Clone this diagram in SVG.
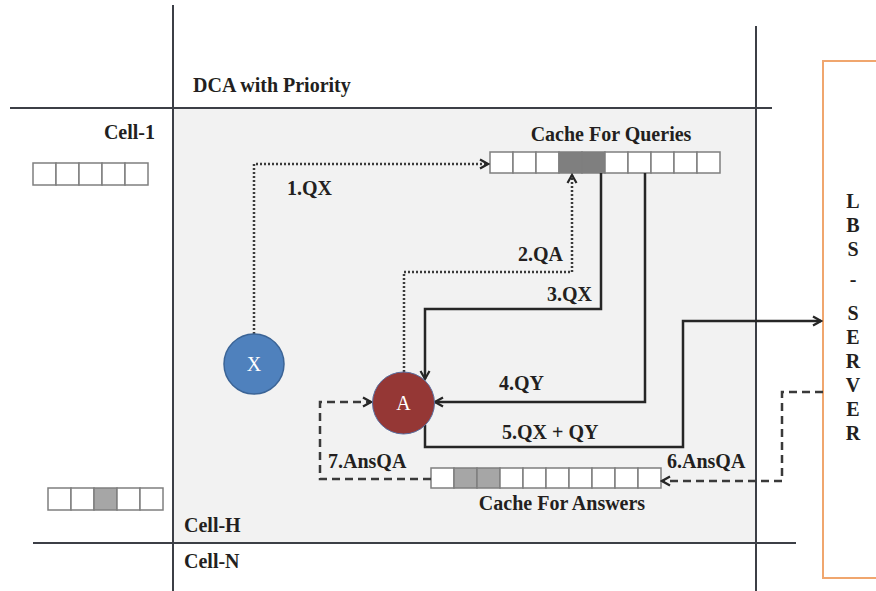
<svg xmlns="http://www.w3.org/2000/svg" width="876" height="591" viewBox="0 0 876 591">
<style>
.t{font-family:"Liberation Serif","Times New Roman",serif;font-weight:bold;font-size:20px;fill:#231f20}
.grid{stroke:#3c3f46;stroke-width:2;fill:none}
.cell{fill:#ffffff;stroke:#7f7f7f;stroke-width:1.5}
.dk{fill:#7f7f7f}
.md{fill:#a6a6a6}
.solid{stroke:#262626;stroke-width:2.5;fill:none}
.dot{stroke:#3a3a3a;stroke-width:2.5;fill:none;stroke-dasharray:2 2}
.dash{stroke:#3a3a3a;stroke-width:2.5;fill:none;stroke-dasharray:8 5}
.nl{font-family:"Liberation Serif","Times New Roman",serif;font-size:20px;fill:#ffffff}
</style>
<defs>
<marker id="arr" markerWidth="12" markerHeight="12" refX="10" refY="6" orient="auto" markerUnits="userSpaceOnUse">
<path d="M2,1.5 L10,6 L2,10.5" fill="none" stroke="#262626" stroke-width="2.2"/>
</marker>
</defs>
<rect width="876" height="591" fill="#ffffff"/>
<g id="cell-h-area">
<rect x="173" y="108" width="583" height="435" fill="#f2f2f2"/>
</g>
<g id="grid">
<line class="grid" x1="173" y1="5" x2="173" y2="591"/>
<line class="grid" x1="756" y1="26" x2="756" y2="591"/>
<line class="grid" x1="10" y1="108" x2="772" y2="108"/>
<line class="grid" x1="33" y1="543" x2="796" y2="543"/>
</g>
<g id="lbs-server">
<rect x="823" y="61" width="70" height="517" fill="#ffffff" stroke="#f0a66e" stroke-width="2"/>
<g class="t" text-anchor="middle">
<text x="853" y="208">L</text>
<text x="853" y="232">B</text>
<text x="853" y="256">S</text>
<text x="853" y="286">-</text>
<text x="853" y="320">S</text>
<text x="853" y="344">E</text>
<text x="853" y="368">R</text>
<text x="853" y="392">V</text>
<text x="853" y="416">E</text>
<text x="853" y="440">R</text>
</g>
</g>
<g id="cache-queries">
<rect class="cell" x="490" y="152" width="23" height="21"/>
<rect class="cell" x="513" y="152" width="23" height="21"/>
<rect class="cell" x="536" y="152" width="23" height="21"/>
<rect class="cell dk" x="559" y="152" width="23" height="21"/>
<rect class="cell dk" x="582" y="152" width="23" height="21"/>
<rect class="cell" x="605" y="152" width="23" height="21"/>
<rect class="cell" x="628" y="152" width="23" height="21"/>
<rect class="cell" x="651" y="152" width="23" height="21"/>
<rect class="cell" x="674" y="152" width="23" height="21"/>
<rect class="cell" x="697" y="152" width="23" height="21"/>
<text class="t" x="611" y="141" text-anchor="middle">Cache For Queries</text>
</g>
<g id="cache-answers">
<rect class="cell" x="431" y="468" width="23" height="20"/>
<rect class="cell md" x="454" y="468" width="23" height="20"/>
<rect class="cell md" x="477" y="468" width="23" height="20"/>
<rect class="cell" x="500" y="468" width="23" height="20"/>
<rect class="cell" x="523" y="468" width="23" height="20"/>
<rect class="cell" x="546" y="468" width="23" height="20"/>
<rect class="cell" x="569" y="468" width="23" height="20"/>
<rect class="cell" x="592" y="468" width="23" height="20"/>
<rect class="cell" x="615" y="468" width="23" height="20"/>
<rect class="cell" x="638" y="468" width="23" height="20"/>
<text class="t" x="562" y="510" text-anchor="middle">Cache For Answers</text>
</g>
<g id="cell-1-cache">
<rect class="cell" x="33" y="163" width="23" height="22"/>
<rect class="cell" x="56" y="163" width="23" height="22"/>
<rect class="cell" x="79" y="163" width="23" height="22"/>
<rect class="cell" x="102" y="163" width="23" height="22"/>
<rect class="cell" x="125" y="163" width="23" height="22"/>
</g>
<g id="cell-n-cache">
<rect class="cell" x="48" y="488" width="23" height="22"/>
<rect class="cell" x="71" y="488" width="23" height="22"/>
<rect class="cell md" x="94" y="488" width="23" height="22"/>
<rect class="cell" x="117" y="488" width="23" height="22"/>
<rect class="cell" x="140" y="488" width="23" height="22"/>
</g>
<g id="labels">
<text class="t" x="193" y="92">DCA with Priority</text>
<text class="t" x="155" y="139" text-anchor="end">Cell-1</text>
<text class="t" x="184" y="532">Cell-H</text>
<text class="t" x="184" y="568">Cell-N</text>
</g>
<g id="connectors">
<path class="dot" d="M254,334 V164 H488" marker-end="url(#arr)"/>
<path class="dot" d="M404,372 V272 H572 V175" marker-end="url(#arr)"/>
<path class="solid" d="M601,173 V309 H425 V379" marker-end="url(#arr)"/>
<path class="solid" d="M645,173 V402 H435" marker-end="url(#arr)"/>
<path class="solid" d="M425,425 V447 H683 V321 H821" marker-end="url(#arr)"/>
<path class="dash" d="M823,392 H782 V481 H662" marker-end="url(#arr)"/>
<path class="dash" d="M431,479 H320 V402 H371" marker-end="url(#arr)"/>
<g class="t">
<text x="287" y="195">1.QX</text>
<text x="518" y="261">2.QA</text>
<text x="547" y="301">3.QX</text>
<text x="499" y="390">4.QY</text>
<text x="502" y="439">5.QX + QY</text>
<text x="667" y="468">6.AnsQA</text>
<text x="328" y="468">7.AnsQA</text>
</g>
</g>
<g id="node-x">
<circle cx="254" cy="364" r="30" fill="#4f81bd" stroke="#3b6496" stroke-width="1.5"/>
<text class="nl" x="254" y="371" text-anchor="middle">X</text>
</g>
<g id="node-a">
<circle cx="403.5" cy="403" r="31" fill="#953735" stroke="#5a6fa0" stroke-width="1"/>
<text class="nl" x="403.5" y="410" text-anchor="middle">A</text>
</g>
</svg>
